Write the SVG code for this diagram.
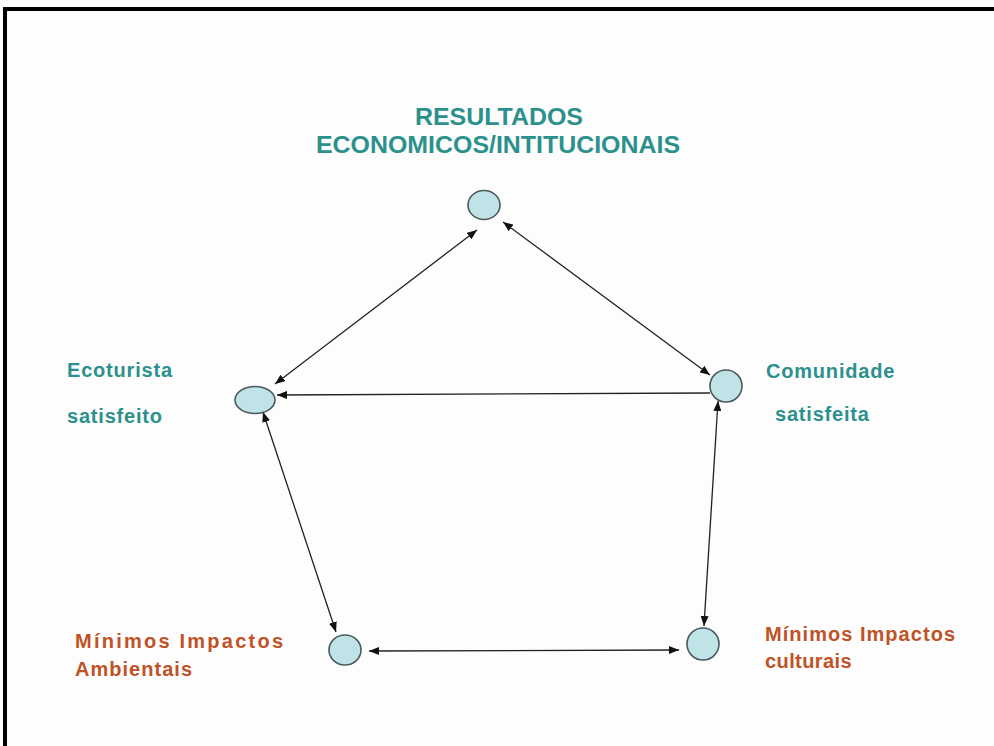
<svg xmlns="http://www.w3.org/2000/svg" width="994" height="746" viewBox="0 0 994 746">
<style>
.node{fill:#BFE3E6;stroke:#4a5a5c;stroke-width:1.6}
.teal{fill:#2C918C;font-family:"Liberation Sans",Arial,sans-serif;font-weight:bold}
.rust{fill:#BF5226;font-family:"Liberation Sans",Arial,sans-serif;font-weight:bold}
.conn{stroke:#222;stroke-width:1.3;fill:none}
</style>
<defs>
<marker id="ah" viewBox="0 0 10 8" refX="10" refY="4" markerWidth="10" markerHeight="8" markerUnits="userSpaceOnUse" orient="auto-start-reverse">
<path d="M0,0 L10,4 L0,8 Z" fill="#111"/>
</marker>
</defs>
<rect x="0" y="0" width="994" height="746" fill="#fdfdfd"/>
<rect x="3" y="7" width="991" height="4" fill="#000"/>
<rect x="3" y="7" width="4" height="739" fill="#000"/>

<g id="connectors">
<line class="conn" x1="477" y1="230" x2="275" y2="384" marker-start="url(#ah)" marker-end="url(#ah)"/>
<line class="conn" x1="503" y1="222" x2="710" y2="375" marker-start="url(#ah)" marker-end="url(#ah)"/>
<line class="conn" x1="277" y1="395" x2="710" y2="393" marker-start="url(#ah)"/>
<line class="conn" x1="263" y1="412" x2="336" y2="632" marker-start="url(#ah)" marker-end="url(#ah)"/>
<line class="conn" x1="718" y1="401" x2="704" y2="626" marker-start="url(#ah)" marker-end="url(#ah)"/>
<line class="conn" x1="369" y1="651" x2="679" y2="650" marker-start="url(#ah)" marker-end="url(#ah)"/>
</g>

<g id="node-resultados">
<ellipse class="node" cx="484" cy="205" rx="16" ry="14.5"/>
<text class="teal" font-size="23" text-anchor="middle" x="499" y="125" textLength="168" lengthAdjust="spacingAndGlyphs">RESULTADOS</text>
<text class="teal" font-size="23" text-anchor="middle" x="498" y="153" textLength="364" lengthAdjust="spacingAndGlyphs">ECONOMICOS/INTITUCIONAIS</text>
</g>

<g id="node-ecoturista">
<ellipse class="node" cx="255" cy="400" rx="20" ry="13.5"/>
<text class="teal" font-size="20" x="67" y="377" letter-spacing="0.8">Ecoturista</text>
<text class="teal" font-size="20" x="67" y="423" letter-spacing="0.8">satisfeito</text>
</g>

<g id="node-comunidade">
<ellipse class="node" cx="726" cy="386" rx="16" ry="16"/>
<text class="teal" font-size="20" x="766" y="378" letter-spacing="0.8">Comunidade</text>
<text class="teal" font-size="20" x="775" y="421" letter-spacing="0.8">satisfeita</text>
</g>

<g id="node-ambientais">
<ellipse class="node" cx="345" cy="650" rx="16" ry="15"/>
<text class="rust" font-size="20" x="75" y="648" textLength="208" lengthAdjust="spacing">Mínimos Impactos</text>
<text class="rust" font-size="20" x="75" y="676" textLength="117" lengthAdjust="spacing">Ambientais</text>
</g>

<g id="node-culturais">
<ellipse class="node" cx="703" cy="644" rx="16" ry="16"/>
<text class="rust" font-size="20" x="765" y="641" textLength="190" lengthAdjust="spacing">Mínimos Impactos</text>
<text class="rust" font-size="20" x="765" y="668" letter-spacing="0.4">culturais</text>
</g>
</svg>
